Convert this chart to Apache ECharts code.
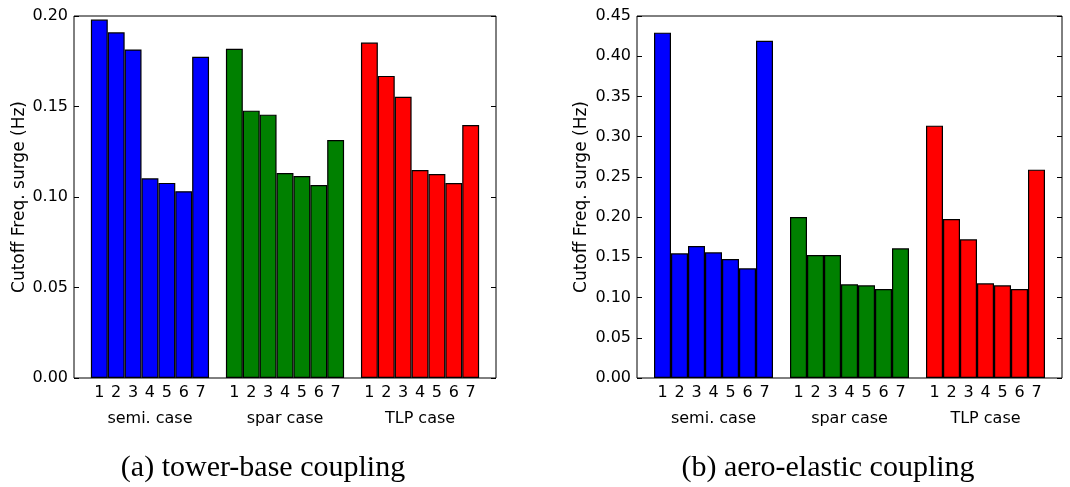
<!DOCTYPE html>
<html>
<head>
<meta charset="utf-8">
<script src="https://cdn.jsdelivr.net/npm/echarts@6/dist/echarts.min.js"></script>
<style>html,body{margin:0;padding:0;background:#fff;}#c{width:1070px;height:487px;}</style>
</head>
<body>
<div id="c"></div>
<script>
const groupNames = ['semi. case', 'spar case', 'TLP case'];
const caseLabels = ['1', '2', '3', '4', '5', '6', '7'];
const groupColors = ['#0000ff', '#008000', '#ff0000'];
const yTicksA = [0, 0.05, 0.10, 0.15, 0.20];
const yTicksB = [0, 0.05, 0.10, 0.15, 0.20, 0.25, 0.30, 0.35, 0.40, 0.45];

// (a) tower-base coupling
const towerSemi = [0.198, 0.191, 0.1815, 0.1103, 0.1078, 0.1032, 0.1775];
const towerSpar = [0.1819, 0.1477, 0.1455, 0.1133, 0.1116, 0.1066, 0.1315];
const towerTLP  = [0.1853, 0.1669, 0.1554, 0.1149, 0.1127, 0.1077, 0.1398];
// (b) aero-elastic coupling
const aeroSemi = [0.4293, 0.155, 0.1641, 0.1562, 0.1479, 0.1363, 0.4193];
const aeroSpar = [0.2001, 0.1529, 0.1529, 0.1164, 0.1152, 0.1106, 0.1612];
const aeroTLP  = [0.3137, 0.1977, 0.1724, 0.1177, 0.1152, 0.1106, 0.259];

// category slots: blank, 1..7, blank, 1..7, blank, 1..7, blank
const slots = [];
groupNames.forEach((g) => {
  slots.push('');
  caseLabels.forEach((c, ci) => { slots.push(ci === 3 ? c + '\n' + g : c); });
});
slots.push('');

function seriesData(vals, gi) {
  const d = slots.map(() => null);
  vals.forEach((v, i) => { d[1 + gi * 8 + i] = v; });
  return d;
}

const fontSans = 'DejaVu Sans';
function xAxisFor(gridIndex) {
  return {
    type: 'category', gridIndex, data: slots,
    axisLine: { show: false }, axisTick: { show: false },
    axisLabel: { interval: 0, color: '#000', fontFamily: fontSans, fontSize: 16, lineHeight: 26, margin: 2 },
    splitLine: { show: false }
  };
}
function yAxisFor(gridIndex, max, showLabels, position, gap) {
  return {
    type: 'value', gridIndex, min: 0, max, interval: 0.05, position,
    axisLine: { show: false },
    axisTick: { show: true, inside: true, length: 5, lineStyle: { color: '#000', width: 1 } },
    axisLabel: { show: showLabels, color: '#000', fontFamily: fontSans, fontSize: 16, margin: 6,
      formatter: v => v.toFixed(2) },
    splitLine: { show: false },
    name: showLabels ? 'Cutoff Freq. surge (Hz)' : '',
    nameLocation: 'middle', nameGap: gap, nameRotate: 90,
    nameTextStyle: { color: '#000', fontFamily: fontSans, fontSize: 17 }
  };
}

const towerSets = [towerSemi, towerSpar, towerTLP];
const aeroSets = [aeroSemi, aeroSpar, aeroTLP];
const series = [];
[towerSets, aeroSets].forEach((sets, k) => {
  sets.forEach((vals, gi) => {
    series.push({
      type: 'bar', xAxisIndex: k, yAxisIndex: k * 2,
      data: seriesData(vals, gi),
      barGap: '-100%', barCategoryGap: 0,
      itemStyle: { color: groupColors[gi], borderColor: '#000', borderWidth: 1.2 },
      animation: false
    });
  });
});

const chart = echarts.init(document.getElementById('c'), null, { renderer: 'canvas' });
chart.setOption({
  backgroundColor: '#fff',
  animation: false,
  grid: [
    { left: 74, right: 574, top: 16, bottom: 109, show: true, borderColor: '#000', borderWidth: 1, backgroundColor: 'transparent' },
    { left: 637, right: 8, top: 16, bottom: 109, show: true, borderColor: '#000', borderWidth: 1, backgroundColor: 'transparent' }
  ],
  xAxis: [xAxisFor(0), xAxisFor(1)],
  yAxis: [
    yAxisFor(0, 0.20, true, 'left', 46),
    yAxisFor(0, 0.20, false, 'right', 0),
    yAxisFor(1, 0.45, true, 'left', 47),
    yAxisFor(1, 0.45, false, 'right', 0)
  ],
  series,
  graphic: [
    { type: 'text', x: 263, y: 468, style: { text: '(a) tower-base coupling', fontFamily: 'Liberation Serif', fontSize: 30, fill: '#000', textAlign: 'center', textVerticalAlign: 'middle' } },
    { type: 'text', x: 828, y: 468, style: { text: '(b) aero-elastic coupling', fontFamily: 'Liberation Serif', fontSize: 30, fill: '#000', textAlign: 'center', textVerticalAlign: 'middle' } }
  ]
});
</script>
</body>
</html>
